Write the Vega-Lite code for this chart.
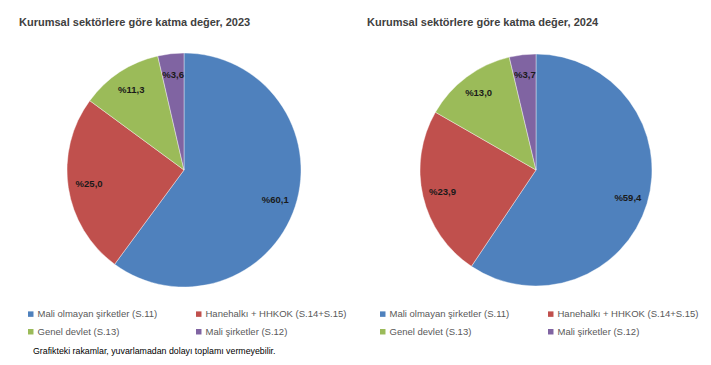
{
  "$schema": "https://vega.github.io/schema/vega-lite/v6.json",
  "padding": {"left": 19, "top": 17, "right": 5, "bottom": 5},
  "background": "white",
  "bounds": "flush",
  "datasets": {
    "sectors": [
      {"year": 2023, "i": 1, "sector": "Mali olmayan şirketler (S.11)", "value": 60.1, "label": "%60,1"},
      {"year": 2023, "i": 2, "sector": "Hanehalkı + HHKOK (S.14+S.15)", "value": 25.0, "label": "%25,0"},
      {"year": 2023, "i": 3, "sector": "Genel devlet (S.13)", "value": 11.3, "label": "%11,3"},
      {"year": 2023, "i": 4, "sector": "Mali şirketler (S.12)", "value": 3.6, "label": "%3,6"},
      {"year": 2024, "i": 1, "sector": "Mali olmayan şirketler (S.11)", "value": 59.4, "label": "%59,4"},
      {"year": 2024, "i": 2, "sector": "Hanehalkı + HHKOK (S.14+S.15)", "value": 23.9, "label": "%23,9"},
      {"year": 2024, "i": 3, "sector": "Genel devlet (S.13)", "value": 13.0, "label": "%13,0"},
      {"year": 2024, "i": 4, "sector": "Mali şirketler (S.12)", "value": 3.7, "label": "%3,7"}
    ]
  },
  "title": {
    "text": "Grafikteki rakamlar, yuvarlamadan dolayı toplamı vermeyebilir.",
    "orient": "bottom",
    "anchor": "start",
    "frame": "group",
    "dx": 14,
    "offset": 3,
    "font": "Liberation Sans",
    "fontSize": 8.8,
    "fontWeight": "normal",
    "color": "#000000"
  },
  "spacing": 22,
  "resolve": {"scale": {"color": "independent"}, "legend": {"color": "independent"}},
  "hconcat": [
    {
      "width": 330,
      "height": 250,
      "title": {"text": "Kurumsal sektörlere göre katma değer, 2023", "anchor": "start", "frame": "group", "offset": 17},
      "data": {"name": "sectors"},
      "transform": [{"filter": "datum.year === 2023"}],
      "encoding": {
        "theta": {"field": "value", "type": "quantitative", "stack": true},
        "order": {"field": "i", "type": "quantitative"},
        "color": {
          "field": "sector",
          "type": "nominal",
          "scale": {
            "domain": ["Mali olmayan şirketler (S.11)", "Hanehalkı + HHKOK (S.14+S.15)", "Genel devlet (S.13)", "Mali şirketler (S.12)"],
            "range": ["#4F81BD", "#C0504D", "#9BBB59", "#8064A2"]
          },
          "legend": {"title": null, "orient": "bottom", "columns": 2, "columnPadding": 36, "rowPadding": 7, "offset": 7, "padding": 7}
        }
      },
      "layer": [
        {"mark": {"type": "arc", "outerRadius": 117, "stroke": "#ffffff", "strokeWidth": 0.4}},
        {"mark": {"type": "text", "radius": 96, "font": "Liberation Sans", "fontSize": 9.5, "fontWeight": "bold", "fill": "#1a1a1a"},
         "encoding": {"text": {"field": "label", "type": "nominal"}, "color": {"value": "#1a1a1a"}}}
      ]
    },
    {
      "width": 330,
      "height": 250,
      "title": {"text": "Kurumsal sektörlere göre katma değer, 2024", "anchor": "start", "frame": "group", "offset": 17, "dx": -4},
      "data": {"name": "sectors"},
      "transform": [{"filter": "datum.year === 2024"}],
      "encoding": {
        "theta": {"field": "value", "type": "quantitative", "stack": true},
        "order": {"field": "i", "type": "quantitative"},
        "color": {
          "field": "sector",
          "type": "nominal",
          "scale": {
            "domain": ["Mali olmayan şirketler (S.11)", "Hanehalkı + HHKOK (S.14+S.15)", "Genel devlet (S.13)", "Mali şirketler (S.12)"],
            "range": ["#4F81BD", "#C0504D", "#9BBB59", "#8064A2"]
          },
          "legend": {"title": null, "orient": "bottom", "columns": 2, "columnPadding": 36, "rowPadding": 7, "offset": 7, "padding": 7}
        }
      },
      "layer": [
        {"mark": {"type": "arc", "outerRadius": 116, "stroke": "#ffffff", "strokeWidth": 0.4}},
        {"mark": {"type": "text", "radius": 96, "font": "Liberation Sans", "fontSize": 9.5, "fontWeight": "bold", "fill": "#1a1a1a"},
         "encoding": {"text": {"field": "label", "type": "nominal"}, "color": {"value": "#1a1a1a"}}}
      ]
    }
  ],
  "config": {
    "view": {"stroke": null},
    "title": {"font": "Liberation Sans", "fontSize": 11, "fontWeight": "bold", "color": "#404040"},
    "legend": {
      "labelFont": "Liberation Sans",
      "labelFontSize": 9.5,
      "labelColor": "#595959",
      "symbolType": "square",
      "symbolSize": 30,
      "symbolStrokeWidth": 0,
      "labelLimit": 300,
      "labelOffset": 2
    }
  }
}
